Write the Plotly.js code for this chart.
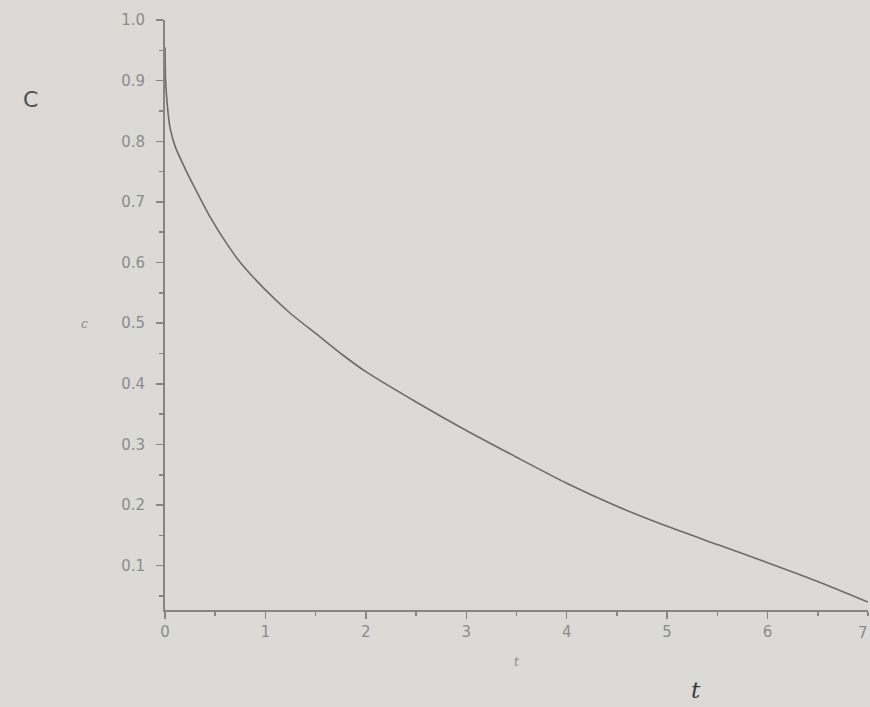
<!DOCTYPE html>
<html>
<head>
<meta charset="utf-8">
<script src="https://cdn.plot.ly/plotly-3.0.1.min.js"></script>
<style>
html,body{margin:0;padding:0;background:#dbdad6;}
#chart{width:870px;height:707px;}
</style>
</head>
<body>
<div id="chart"></div>
<script>
// Data
const tValues = [0, 0.005, 0.02, 0.05, 0.1, 0.2, 0.3, 0.45, 0.6, 0.75, 1.0, 1.25, 1.5, 1.75, 2.0, 2.5, 3.0, 3.5, 4.0, 4.5, 5.0, 5.5, 6.0, 6.5, 7.0];
const cValues = [0.955, 0.905, 0.865, 0.822, 0.792, 0.755, 0.722, 0.675, 0.635, 0.600, 0.555, 0.516, 0.483, 0.450, 0.420, 0.370, 0.323, 0.279, 0.236, 0.198, 0.165, 0.135, 0.105, 0.074, 0.040];
const xTickVals = [0, 1, 2, 3, 4, 5, 6];
const xLastTick = '7';
const yTickVals = [0.1, 0.2, 0.3, 0.4, 0.5, 0.6, 0.7, 0.8, 0.9, 1.0];

const tickFont = {family: 'DejaVu Sans, sans-serif', size: 15, color: '#8c8c8c'};

const trace = {
  x: tValues, y: cValues, mode: 'lines', type: 'scatter',
  line: {color: '#6c6c6c', width: 1.6, shape: 'spline', smoothing: 0.6},
  hoverinfo: 'skip', showlegend: false
};

const layout = {
  width: 870, height: 707,
  paper_bgcolor: '#dbdad6', plot_bgcolor: '#dbdad6',
  margin: {l: 165, r: 2, t: 20, b: 97},
  showlegend: false,
  xaxis: {
    range: [0, 7], tickvals: xTickVals, ticktext: xTickVals.map(String),
    showgrid: false, zeroline: false, showline: true, linecolor: '#858585', linewidth: 2,
    ticks: 'outside', ticklen: 7, tickwidth: 1.5, tickcolor: '#858585',
    minor: {dtick: 0.5, ticks: 'outside', ticklen: 4, tickcolor: '#858585', tickwidth: 1.5},
    tickfont: tickFont,
    title: {text: '<i>t</i>', font: {family: 'DejaVu Serif, serif', size: 12, color: '#8a8a8a'}, standoff: 18}
  },
  yaxis: {
    range: [0.027, 1.0], tickvals: yTickVals, tickformat: '.1f',
    showgrid: false, zeroline: false, showline: true, linecolor: '#858585', linewidth: 2,
    ticks: 'outside', ticklen: 7, tickwidth: 1.5, tickcolor: '#858585',
    minor: {dtick: 0.05, ticks: 'outside', ticklen: 4, tickcolor: '#858585', tickwidth: 1.5},
    tickfont: tickFont, ticklabelstandoff: 8
  },
  annotations: [
    {text: xLastTick, xref: 'paper', yref: 'paper', x: 1.003, y: -0.02, showarrow: false,
     font: tickFont, xanchor: 'right', yanchor: 'top'},
    {text: '<i>c</i>', xref: 'paper', yref: 'paper', x: -0.114, y: 0.485, showarrow: false,
     font: {family: 'DejaVu Serif, serif', size: 12, color: '#8a8a8a'}, xanchor: 'center', yanchor: 'middle'},
    {text: 'C', xref: 'paper', yref: 'paper', x: -0.192, y: 0.866, showarrow: false,
     font: {family: 'DejaVu Sans, sans-serif', size: 22, color: '#505050'}, xanchor: 'center', yanchor: 'middle'},
    {text: '<i>t</i>', xref: 'paper', yref: 'paper', x: 0.756, y: -0.135, showarrow: false,
     font: {family: 'DejaVu Serif, serif', size: 23, color: '#3a3a3a'}, xanchor: 'center', yanchor: 'middle'}
  ]
};

Plotly.newPlot('chart', [trace], layout, {displayModeBar: false, staticPlot: true});
</script>
</body>
</html>
